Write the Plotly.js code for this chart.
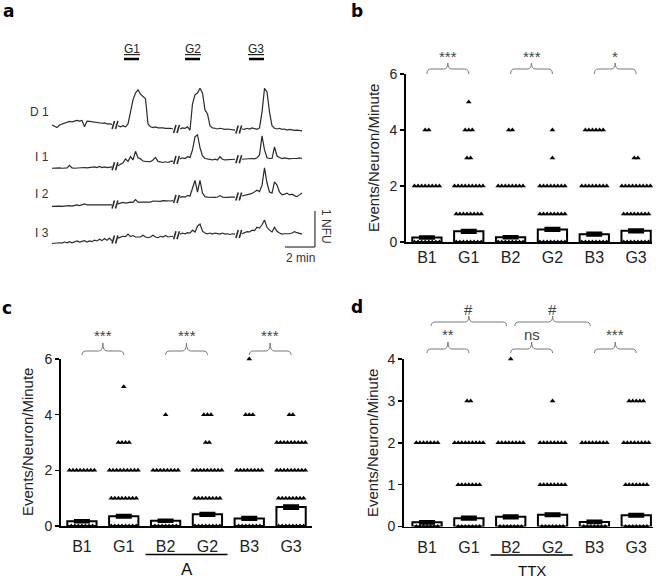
<!DOCTYPE html>
<html><head><meta charset="utf-8">
<script src="https://cdn.plot.ly/plotly-3.0.1.min.js"></script>
<style>html,body{margin:0;padding:0;background:#fff}#chart{width:660px;height:578px}</style>
</head><body><div id="chart"></div>
<script>
// ---------------- DATA ----------------
// Panel a: calcium traces, NFU relative to each cell's own baseline, one sample every 10 s
const traceNames = ['D 1', 'I 1', 'I 2', 'I 3'];
const stimNames = ['G1', 'G2', 'G3'];
const segmentStartMin = [0, 4.4, 8.533, 12.667];
const sampleStepMin = 1 / 6;

const D1_base = [0.08,0.04,0.01,0.08,0.11,0.14,0.17,0.18,0.17,0.19,0.21,0.19,0.21,0.03,0.19,0.18,0.17,0.15,0.14,0.15,0.13,0.14,0.11,0.11,0.10];
const D1_G1 = [0.06,0.03,0.06,0.03,0.11,0.44,0.78,0.97,1.06,0.94,0.86,0.81,0.11,0.03,0.01,0.03,0.00,0.01,0.00,-0.01,0.00,-0.01,-0.03];
const D1_G2 = [-0.03,0.00,-0.01,0.03,-0.06,0.67,0.92,0.97,1.10,0.97,0.50,0.39,0.06,0.00,-0.01,-0.03,-0.01,-0.03,-0.04,-0.03,-0.04,-0.04,-0.06];
const D1_G3 = [-0.03,-0.04,-0.01,-0.03,0.00,-0.03,-0.04,0.00,0.44,1.10,1.00,0.44,0.06,-0.01,-0.03,-0.01,-0.04,-0.03,-0.06,-0.04,-0.06,-0.07,-0.06,-0.07,-0.08];

const I1_base = [-0.01,0.00,-0.01,0.00,-0.01,0.00,0.00,0.07,0.00,-0.01,0.00,-0.01,0.00,0.01,0.00,0.01,0.00,0.03,0.01,0.04,0.01,0.03,0.01,0.03,0.03];
const I1_G1 = [0.06,0.11,0.14,0.25,0.18,0.31,0.22,0.46,0.28,0.25,0.19,0.18,0.17,0.17,0.22,0.29,0.18,0.17,0.15,0.17,0.15,0.18,0.19];
const I1_G2 = [0.25,0.28,0.26,0.31,0.29,0.50,0.86,0.92,0.56,0.33,0.26,0.24,0.24,0.22,0.24,0.22,0.31,0.24,0.22,0.22,0.24,0.22,0.24];
const I1_G3 = [0.24,0.25,0.26,0.25,0.26,0.25,0.28,0.36,0.89,0.50,0.28,0.26,0.26,0.58,0.33,0.29,0.26,0.28,0.26,0.25,0.26,0.25,0.26,0.28,0.26];

const I2_base = [-0.01,0.00,-0.01,0.00,-0.01,0.00,0.00,0.01,0.00,0.01,0.03,0.01,0.03,0.06,0.03,0.03,0.01,0.03,0.03,0.01,0.03,0.03,0.01,0.03,0.03];
const I2_G1 = [0.06,0.08,0.10,0.08,0.10,0.11,0.10,0.18,0.11,0.11,0.13,0.11,0.13,0.11,0.14,0.13,0.14,0.13,0.15,0.14,0.15,0.14,0.15];
const I2_G2 = [0.24,0.26,0.25,0.29,0.28,0.50,0.71,0.39,0.71,0.36,0.26,0.25,0.24,0.25,0.24,0.25,0.29,0.25,0.24,0.24,0.25,0.24,0.25];
const I2_G3 = [0.28,0.29,0.31,0.33,0.35,0.39,0.44,0.40,0.58,1.06,0.64,0.39,0.36,0.67,0.58,0.39,0.31,0.33,0.36,0.31,0.33,0.29,0.26,0.31,0.36];

const I3_base = [-0.01,0.00,-0.01,0.01,0.00,0.03,0.01,0.04,0.01,0.03,0.06,0.03,0.04,0.07,0.03,0.06,0.04,0.08,0.06,0.11,0.07,0.13,0.08,0.14,0.06];
const I3_G1 = [0.14,0.17,0.19,0.18,0.25,0.18,0.21,0.17,0.18,0.17,0.22,0.17,0.15,0.17,0.22,0.17,0.15,0.19,0.17,0.21,0.17,0.18,0.19];
const I3_G2 = [0.25,0.28,0.26,0.29,0.28,0.36,0.31,0.47,0.53,0.33,0.28,0.26,0.28,0.25,0.28,0.26,0.25,0.28,0.25,0.26,0.24,0.26,0.25];
const I3_G3 = [0.26,0.28,0.32,0.31,0.36,0.35,0.44,0.42,0.51,0.64,0.44,0.36,0.31,0.44,0.33,0.28,0.25,0.26,0.25,0.26,0.28,0.32,0.29,0.28,0.25];

// Panels b-d: events / neuron / minute
const groups = ['B1', 'G1', 'B2', 'G2', 'B3', 'G3'];
const levelsBC = [0, 1, 2, 3, 4, 5, 6];
const levelsD = [0, 1, 2, 3, 4];

const b_mean = [0.16, 0.38, 0.17, 0.45, 0.28, 0.40];
const b_sem = [0.03, 0.04, 0.03, 0.04, 0.04, 0.04];
const b_counts = [[8,0,8,0,2,0,0],[8,8,9,2,3,1,0],[8,0,8,0,2,0,0],[8,8,8,1,1,0,0],[8,0,8,0,6,0,0],[8,8,9,2,0,0,0]];
const b_sig = ['***', '***', '*'];

const c_mean = [0.17, 0.35, 0.19, 0.42, 0.27, 0.68];
const c_sem = [0.03, 0.04, 0.03, 0.04, 0.04, 0.05];
const c_counts = [[7,0,8,0,0,0,0],[8,8,9,4,0,1,0],[7,0,8,0,1,0,0],[8,8,9,2,3,0,0],[7,0,8,0,3,0,1],[8,8,9,9,2,0,0]];
const c_sig = ['***', '***', '***'];
const c_treatment = 'A';

const d_mean = [0.10, 0.20, 0.23, 0.28, 0.11, 0.27];
const d_sem = [0.02, 0.025, 0.025, 0.025, 0.02, 0.025];
const d_counts = [[7,0,7,0,0],[7,7,9,2,0],[7,0,8,0,1],[7,8,8,1,0],[7,0,8,0,0],[7,7,8,5,0]];
const d_sig = ['**', 'ns', '***'];
const d_sigCross = ['#', '#'];
const d_treatment = 'TTX';

// ---------------- DRAWING ----------------
const W = 660, H = 578;
const PX = x => x / W, PY = y => 1 - y / H;
const FONT = 'Liberation Sans, Arial, Helvetica, sans-serif';
const data = [], shapes = [], annotations = [];

function xAx(domain, range, anchor, ticklen) {
  return {domain, range, anchor, showline: true, linecolor: '#000', linewidth: 1.8, ticks: 'outside', ticklen: ticklen,
    tickcolor: 'rgba(0,0,0,0)', tickvals: groups.map((_, i) => i), ticktext: groups,
    tickfont: {family: FONT, size: 16, color: '#222'}, showgrid: false, zeroline: false, fixedrange: true};
}
function yAx(domain, range, tickvals, anchor) {
  return {domain, range, anchor, showline: true, linecolor: '#000', linewidth: 1.8, ticks: 'outside', ticklen: 4,
    tickwidth: 1.5, tickcolor: '#000', tickvals, tickfont: {family: FONT, size: 14, color: '#222'},
    showgrid: false, zeroline: false, fixedrange: true};
}
const axes = {
  xaxis: {domain: [PX(40), PX(340)], range: [-0.8, 19.2], visible: false, anchor: 'y', fixedrange: true},
  yaxis: {domain: [PY(255), PY(75)], range: [0, 5], visible: false, anchor: 'x', fixedrange: true},
  xaxis2: xAx([PX(406), PX(652)], [-0.5, 5.38], 'y2', 0),
  yaxis2: yAx([PY(242), PY(74)], [0, 6], [0, 2, 4, 6], 'x2'),
  xaxis3: xAx([PX(61), PX(312)], [-0.5, 5.5], 'y3', 5),
  yaxis3: yAx([PY(526), PY(359)], [0, 6], [0, 2, 4, 6], 'x3'),
  xaxis4: xAx([PX(404), PX(653)], [-0.55, 5.4], 'y4', 5),
  yaxis4: yAx([PY(526.5), PY(359)], [0, 4], [0, 1, 2, 3, 4], 'x4')
};
// map a data x on a given x axis to a paper fraction (for text placed over the axis)
function xPaper(axName, v) {
  const a = axes[axName];
  return a.domain[0] + (v - a.range[0]) / (a.range[1] - a.range[0]) * (a.domain[1] - a.domain[0]);
}

function txt(text, x, y, opts) {
  annotations.push(Object.assign({text, x, y, xref: 'paper', yref: 'paper', showarrow: false,
    xanchor: 'center', yanchor: 'middle', font: {family: FONT, size: 12, color: '#222'}}, opts || {}));
}

// ---- panel a ----
const traceSegs = [[D1_base,D1_G1,D1_G2,D1_G3],[I1_base,I1_G1,I1_G2,I1_G3],[I2_base,I2_G1,I2_G2,I2_G3],[I3_base,I3_G1,I3_G2,I3_G3]];
const traceOffset = [3.53, 2.42, 1.36, 0.33];
const traceLabelPy = [112, 157, 194, 233];
const breakT = [4.2, 8.3, 12.45];
const pxT = 1 / 15, pxY = 1 / 36;
traceSegs.forEach((segs, k) => {
  segs.forEach((seg, j) => {
    data.push({type: 'scatter', mode: 'lines', xaxis: 'x', yaxis: 'y',
      x: seg.map((_, i) => segmentStartMin[j] + i * sampleStepMin),
      y: seg.map(v => v + traceOffset[k]),
      line: {color: '#2a2a2a', width: 1.2}, hoverinfo: 'skip'});
  });
  breakT.forEach((bt, j) => {
    const a = segs[j][segs[j].length - 1], b = segs[j + 1][0];
    const yc = (a + b) / 2 + traceOffset[k];
    [-1.7, 1.7].forEach(dx => {
      shapes.push({type: 'line', xref: 'x', yref: 'y',
        x0: bt + (dx - 1.2) * pxT, y0: yc - 4 * pxY, x1: bt + (dx + 1.2) * pxT, y1: yc + 4 * pxY,
        line: {color: '#2a2a2a', width: 1.6}});
    });
  });
  txt(traceNames[k], PX(51), PY(traceLabelPy[k]), {xanchor: 'right', font: {family: FONT, size: 12, color: '#333'}});
});
// stimulus bars
const stimT = [[4.8, 5.8], [8.87, 9.87], [13.13, 14.13]];
stimT.forEach((s, j) => {
  shapes.push({type: 'line', xref: 'paper', yref: 'paper', x0: xPaper('xaxis', s[0]), x1: xPaper('xaxis', s[1]),
    y0: PY(59), y1: PY(59), line: {color: '#000', width: 2.5}});
  txt('<u>' + stimNames[j] + '</u>', xPaper('xaxis', (s[0] + s[1]) / 2), PY(49), {font: {family: FONT, size: 12, color: '#222'}});
});
// scale bar: 2 min x 1 NFU
shapes.push({type: 'line', xref: 'x', yref: 'y', x0: 15.53, x1: 17.53, y0: 0.222, y1: 0.222, line: {color: '#333', width: 1.2}});
shapes.push({type: 'line', xref: 'x', yref: 'y', x0: 17.53, x1: 17.53, y0: 0.222, y1: 1.222, line: {color: '#333', width: 1.2}});
txt('2 min', PX(300), PY(258), {font: {family: FONT, size: 12, color: '#333'}});
txt('1 NFU', PX(326), PY(226), {textangle: 90, font: {family: FONT, size: 12, color: '#333'}});

// ---- bar panels ----
function barPanel(n, means, sems, counts, levels) {
  const xa = 'x' + n, ya = 'y' + n;
  data.push({type: 'bar', xaxis: xa, yaxis: ya, x: groups.map((_, i) => i), y: means, width: 0.7,
    marker: {color: '#fff', line: {color: '#000', width: 2}},
    error_y: {type: 'data', array: sems, visible: true, color: '#000', thickness: 3, width: 8}, hoverinfo: 'skip'});
  const xs = [], ys = [];
  counts.forEach((row, g) => row.forEach((cnt, li) => {
    for (let k = 0; k < cnt; k++) { xs.push(g + (k - (cnt - 1) / 2) * 0.085); ys.push(levels[li]); }
  }));
  data.push({type: 'scatter', mode: 'markers', xaxis: xa, yaxis: ya, x: xs, y: ys, cliponaxis: false,
    marker: {symbol: 'triangle-up', size: 5, color: '#000'}, hoverinfo: 'skip'});
}
barPanel(2, b_mean, b_sem, b_counts, levelsBC);
barPanel(3, c_mean, c_sem, c_counts, levelsBC);
barPanel(4, d_mean, d_sem, d_counts, levelsD);

function brace(n, x0, x1, xm, yE, yL, yP, label, ty) {
  const ax = 'xaxis' + n, d = 0.1;
  const X = v => xPaper(ax, v), Y = v => PY(v);
  shapes.push({type: 'path', xref: 'paper', yref: 'paper',
    path: `M${X(x0)},${Y(yE)} Q${X(x0)},${Y(yL)} ${X(x0 + d)},${Y(yL)} L${X(xm - d)},${Y(yL)} Q${X(xm)},${Y(yL)} ${X(xm)},${Y(yP)} Q${X(xm)},${Y(yL)} ${X(xm + d)},${Y(yL)} L${X(x1 - d)},${Y(yL)} Q${X(x1)},${Y(yL)} ${X(x1)},${Y(yE)}`,
    line: {color: '#777', width: 1}});
  txt(label, X(xm), PY(ty), {font: {family: FONT, size: 15, color: '#444'}});
}
b_sig.forEach((s, i) => brace(2, 2 * i, 2 * i + 1, 2 * i + 0.5, 74, 69, 63, s, 57));
c_sig.forEach((s, i) => brace(3, 2 * i, 2 * i + 1, 2 * i + 0.5, 355, 351, 343, s, 335));
d_sig.forEach((s, i) => brace(4, 2 * i, 2 * i + 1, 2 * i + 0.5, 353, 349, 342, s, 334));
d_sigCross.forEach((s, i) => brace(4, 2 * i + 0.1, 2 * i + 2 - 0.1, 2 * i + 1, 326, 322, 316, s, 309));

// treatment lines
function treatment(n, label, ly, ty, size) {
  const ax = 'xaxis' + n;
  shapes.push({type: 'line', xref: 'paper', yref: 'paper', x0: xPaper(ax, 1.52), x1: xPaper(ax, 3.48),
    y0: PY(ly), y1: PY(ly), line: {color: '#000', width: 1.3}});
  txt(label, xPaper(ax, 2.5), PY(ty), {font: {family: FONT, size: size, color: '#111'}});
}
treatment(3, c_treatment, 554.5, 569, 17);
treatment(4, d_treatment, 555, 570, 15);

// y titles and panel letters
txt('Events/Neuron/Minute', PX(374), PY(158), {textangle: -90, font: {family: FONT, size: 15, color: '#222'}});
txt('Events/Neuron/Minute', PX(28), PY(442), {textangle: -90, font: {family: FONT, size: 15, color: '#222'}});
txt('Events/Neuron/Minute', PX(372), PY(443), {textangle: -90, font: {family: FONT, size: 15, color: '#222'}});
const letterFont = {family: 'DejaVu Sans, Liberation Sans, sans-serif', size: 17, color: '#000'};
txt('<b>a</b>', PX(8), PY(11), {font: letterFont});
txt('<b>b</b>', PX(357), PY(11), {font: letterFont});
txt('<b>c</b>', PX(7), PY(308), {font: letterFont});
txt('<b>d</b>', PX(357), PY(307), {font: letterFont});

const layout = Object.assign({
  width: W, height: H, margin: {l: 0, r: 0, t: 0, b: 0, pad: 0}, paper_bgcolor: '#fff', plot_bgcolor: 'rgba(0,0,0,0)',
  showlegend: false, font: {family: FONT}, shapes, annotations
}, axes);
Plotly.newPlot('chart', data, layout, {displayModeBar: false, staticPlot: true});
</script></body></html>
